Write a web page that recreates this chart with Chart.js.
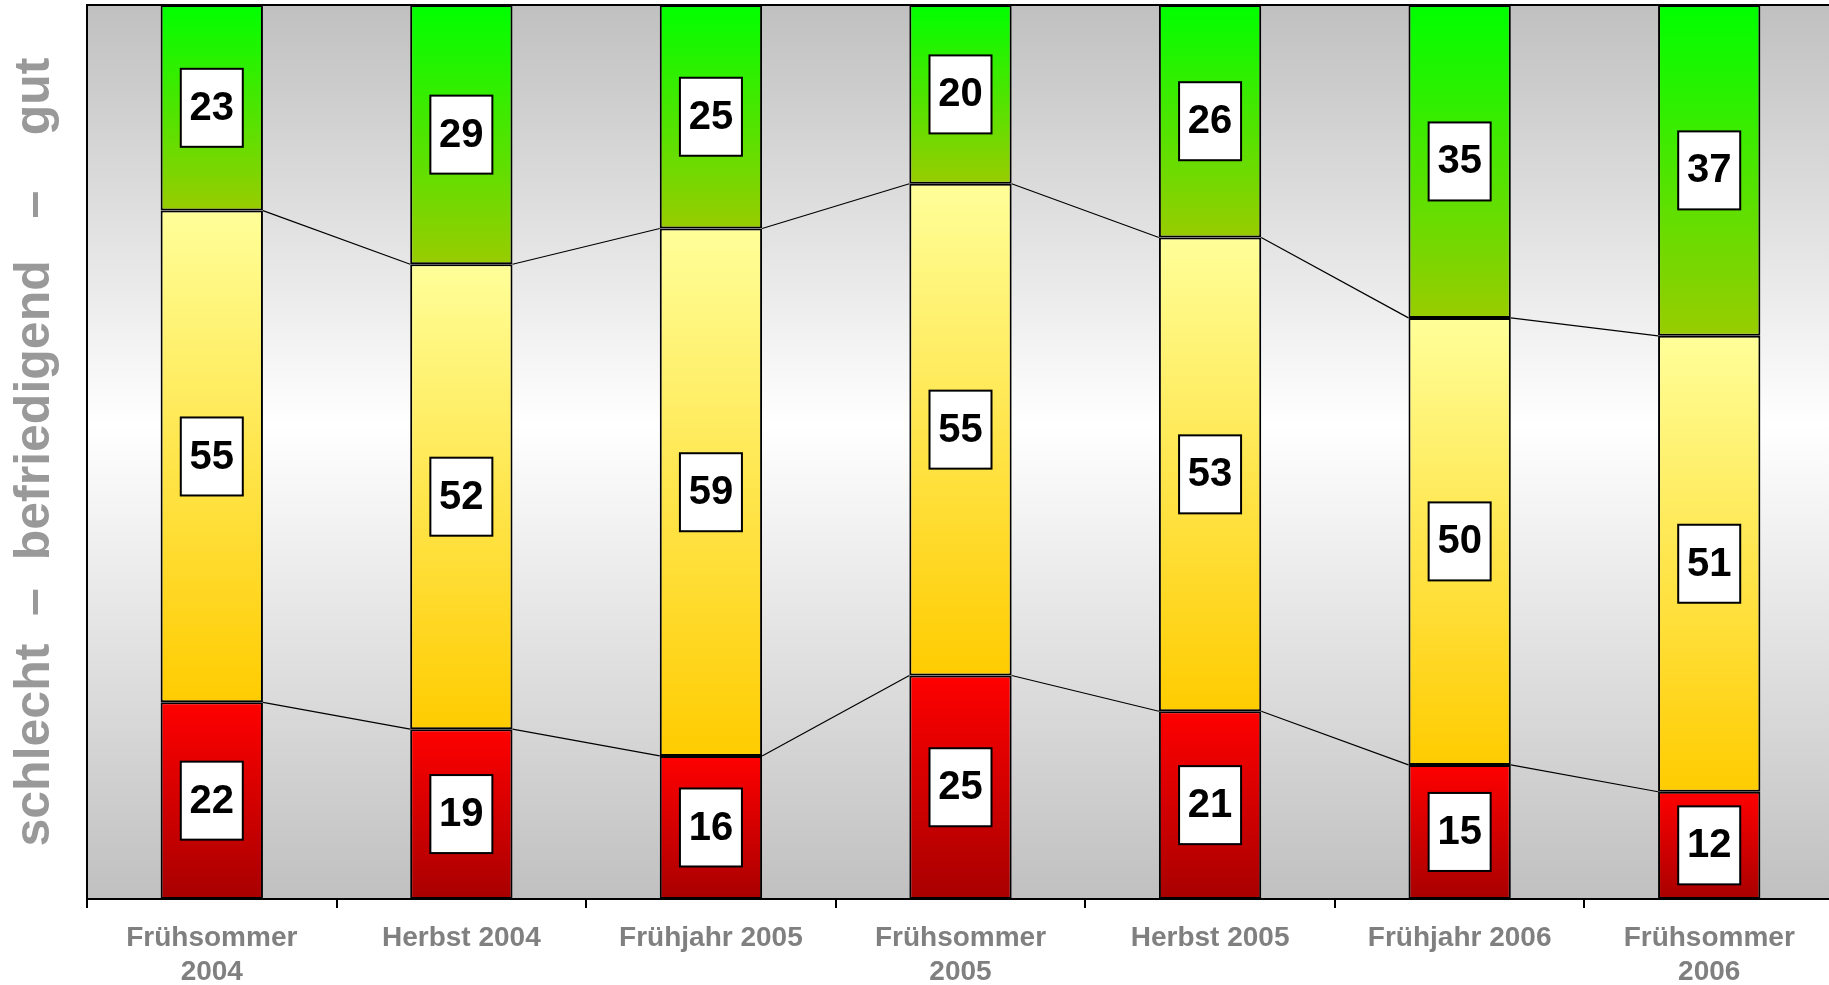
<!DOCTYPE html>
<html lang="de">
<head>
<meta charset="utf-8">
<title>schlecht – befriedigend – gut</title>
<script src="https://cdn.jsdelivr.net/npm/chart.js@4/dist/chart.umd.min.js"></script>
<style>
    html, body { margin: 0; padding: 0; background: #fff; overflow: hidden; }
    canvas { display: block; }
</style>
</head>
<body>
<!-- etwas höher als das Fenster: Chart.js rechnet das Tick-Padding unten doppelt -->
<canvas id="chart" width="1834" height="1002"></canvas>
<script>
const kategorien = [
    ["Frühsommer", "2004"],
    "Herbst 2004",
    "Frühjahr 2005",
    ["Frühsommer", "2005"],
    "Herbst 2005",
    "Frühjahr 2006",
    ["Frühsommer", "2006"]
];
const schlecht = [22, 19, 16, 25, 21, 15, 12];
const befriedigend = [55, 52, 59, 55, 53, 50, 51];
const gut = [23, 29, 25, 20, 26, 35, 37];
const achsenTitel = "schlecht  –  befriedigend   –    gut";

const serien = [schlecht, befriedigend, gut];
const FONT = "'Liberation Sans', Arial, sans-serif";

// Verlauf je Balkensegment (oben -> unten)
function segmentVerlauf(oben, unten) {
    return (ctx) => {
        const chart = ctx.chart;
        const y = chart.scales.y;
        if (ctx.type !== "data" || !y) return unten;
        const i = ctx.dataIndex, d = ctx.datasetIndex;
        let basis = 0;
        for (let k = 0; k < d; k++) basis += serien[k][i];
        const y0 = y.getPixelForValue(basis + serien[d][i]);
        const y1 = y.getPixelForValue(basis);
        if (!isFinite(y0) || !isFinite(y1)) return unten;
        const g = chart.ctx.createLinearGradient(0, y0, 0, y1);
        g.addColorStop(0, oben);
        g.addColorStop(1, unten);
        return g;
    };
}

const hintergrund = {
    id: "hintergrund",
    beforeDraw(chart) {
        const { ctx, chartArea: a } = chart;
        ctx.save();
        ctx.fillStyle = "#fff";
        ctx.fillRect(0, 0, chart.width, chart.height);
        const g = ctx.createLinearGradient(0, a.top, 0, a.bottom);
        g.addColorStop(0, "#c0c0c0");
        g.addColorStop(0.47, "#ffffff");
        g.addColorStop(1, "#c0c0c0");
        ctx.fillStyle = g;
        ctx.fillRect(a.left, a.top, a.right - a.left, a.bottom - a.top);
        ctx.strokeStyle = "#000";
        ctx.lineWidth = 2;
        ctx.beginPath();
        ctx.moveTo(a.left, a.top);
        ctx.lineTo(a.right, a.top);
        ctx.stroke();
        ctx.restore();
    }
};

// Verbindungslinien zwischen den Balken + Wertekästchen
const reihenLinien = {
    id: "reihenLinien",
    afterDatasetsDraw(chart) {
        const ctx = chart.ctx;
        ctx.save();
        ctx.strokeStyle = "#000";
        ctx.lineWidth = 1.2;
        [0, 1].forEach(d => {
            const bars = chart.getDatasetMeta(d).data;
            for (let i = 0; i < bars.length - 1; i++) {
                const a = bars[i], b = bars[i + 1];
                ctx.beginPath();
                ctx.moveTo(a.x + a.width / 2, a.y);
                ctx.lineTo(b.x - b.width / 2, b.y);
                ctx.stroke();
            }
        });

        ctx.font = "bold 40px " + FONT;
        ctx.textAlign = "center";
        ctx.textBaseline = "middle";
        serien.forEach((werte, d) => {
            chart.getDatasetMeta(d).data.forEach((bar, i) => {
                const cx = bar.x;
                const cy = (bar.y + bar.base) / 2;
                ctx.fillStyle = "#fff";
                ctx.fillRect(cx - 31, cy - 39, 62, 78);
                ctx.lineWidth = 2;
                ctx.strokeRect(cx - 31, cy - 39, 62, 78);
                ctx.fillStyle = "#000";
                ctx.fillText(String(werte[i]), cx, cy + 1);
            });
        });
        ctx.restore();
    }
};

new Chart(document.getElementById("chart"), {
    type: "bar",
    data: {
        labels: kategorien,
        datasets: [
            { label: "schlecht", data: schlecht, backgroundColor: segmentVerlauf("#ff0000", "#a80000") },
            { label: "befriedigend", data: befriedigend, backgroundColor: segmentVerlauf("#ffff99", "#ffcc00") },
            { label: "gut", data: gut, backgroundColor: segmentVerlauf("#00ff00", "#99cc00") }
        ]
    },
    options: {
        responsive: false,
        animation: false,
        layout: { padding: { top: 5, left: 0, right: 0, bottom: 0 } },
        datasets: {
            bar: {
                borderColor: "#000",
                borderWidth: 2,
                borderSkipped: false,
                categoryPercentage: 1,
                barPercentage: 0.41
            }
        },
        plugins: {
            legend: { display: false },
            tooltip: { enabled: false }
        },
        scales: {
            x: {
                stacked: true,
                grid: {
                    display: true,
                    drawOnChartArea: false,
                    drawTicks: true,
                    tickLength: 9,
                    color: "#000",
                    lineWidth: 2,
                    offset: true
                },
                border: { display: true, color: "#000", width: 2 },
                ticks: {
                    color: "#808080",
                    padding: 13,
                    maxRotation: 0,
                    autoSkip: false,
                    font: { family: FONT, size: 28, weight: "bold", lineHeight: 34 / 28 }
                }
            },
            y: {
                stacked: true,
                min: 0,
                max: 100,
                grid: { display: false, drawTicks: false },
                border: { display: true, color: "#000", width: 2 },
                ticks: { display: false },
                title: {
                    display: true,
                    text: achsenTitel,
                    color: "#999999",
                    padding: { top: 5, bottom: 22 },
                    font: { family: FONT, size: 50, weight: "bold", lineHeight: 1.2 }
                }
            }
        }
    },
    plugins: [hintergrund, reihenLinien]
});
</script>
</body>
</html>
